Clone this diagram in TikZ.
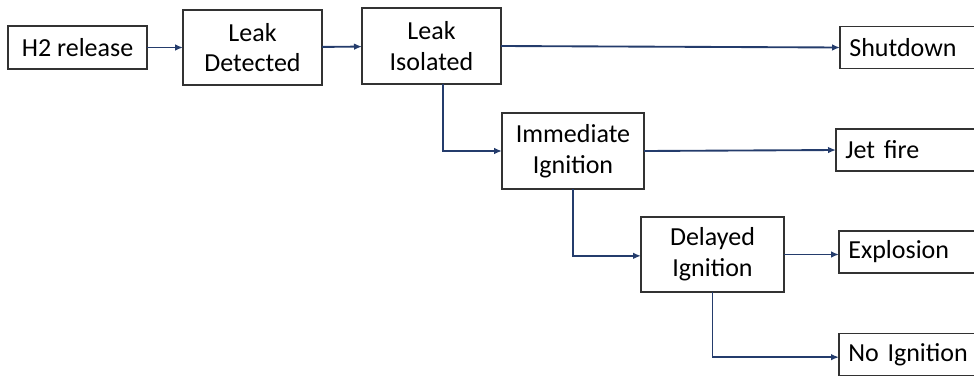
\documentclass[tikz,border=0pt]{standalone}
\usepackage{fontspec}
\setmainfont{Carlito}
\usetikzlibrary{arrows.meta}
\definecolor{flownavy}{RGB}{36,60,108}
\definecolor{boxgray}{RGB}{50,50,50}
\tikzset{
  event/.style={draw=boxgray, line width=0.9pt, align=center, inner sep=2pt, outer sep=0pt,
    font=\fontsize{19.5}{23}\selectfont},
  outcome/.style={event, draw=none, anchor=west, align=left, text width=90pt, inner xsep=7pt,
    minimum height=31.5pt},
  openbox/.style={boxgray, line width=0.9pt},
  flow/.style={flownavy, line width=1.4pt, -{Latex[length=6pt,width=5pt]}}
}
\begin{document}
\begin{tikzpicture}[x=0.75pt, y=-0.75pt]

    % Page frame
    \useasboundingbox (0,0) rectangle (974,379);
    \coordinate (edge) at (974,0);

    % Event chain
    \node[event, minimum width=104.25pt, minimum height=32.25pt] (release) at (77.5,47.5) {H2 release};
    \node[event, minimum width=104.25pt, minimum height=56.25pt] (detected) at (252.5,47.5) {Leak\\Detected};
    \node[event, minimum width=104.25pt, minimum height=57pt] (isolated) at (431.5,46) {Leak\\Isolated};
    \node[event, minimum width=106.5pt, minimum height=57pt] (immediate) at (573,151) {Immediate\\Ignition};
    \node[event, minimum width=107.25pt, minimum height=56.25pt] (delayed) at (712.5,254.5) {Delayed\\Ignition};

    % Outcomes (boxes run off the right edge)
    \node[outcome] (shutdown) at (840,47.5) {Shutdown};
    \node[outcome] (jetfire) at (836,150) {Jet fire};
    \node[outcome] (explosion) at (839,252) {Explosion};
    \node[outcome] (noignition) at (839,354.5) {No Ignition};
    \foreach \n in {shutdown,jetfire,explosion,noignition}
        \draw[openbox] (\n.north -| edge) -- (\n.north west) -- (\n.south west) -- (\n.south -| edge);

    % Connectors
    \draw[flow] (release) -- (detected);
    \draw[flow] (detected) -- (isolated);
    \draw[flow] (isolated.east) -- (shutdown.west);
    \draw[flow] ([xshift=8.6pt]isolated.south) |- (immediate.west);
    \draw[flow] (immediate.east) -- (jetfire.west);
    \draw[flow] (immediate.south) |- ([yshift=-1pt]delayed.west);
    \draw[flow] (delayed.east) -- (delayed.east -| explosion.west);
    \draw[flow] (delayed.south) |- ([yshift=-2pt]noignition.west);

\end{tikzpicture}
\end{document}
